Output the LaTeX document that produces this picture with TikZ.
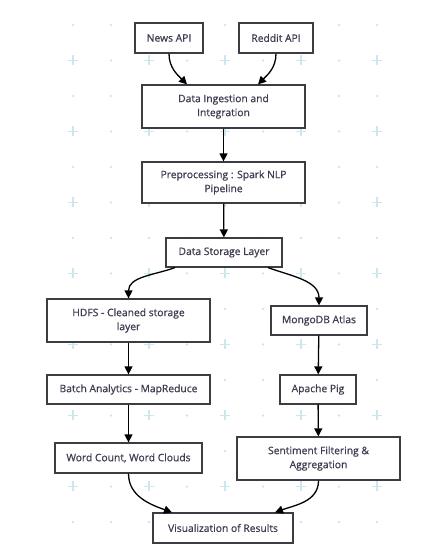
\documentclass[tikz,border=0pt]{standalone}
\usepackage{fontspec}
\setmainfont{Open Sans}
\newfontfamily\boxfont{Open Sans}[FakeBold=0.7]
\usetikzlibrary{arrows.meta}
\definecolor{boxgray}{RGB}{60,60,66}
\definecolor{textgray}{RGB}{62,60,80}
\definecolor{dotcyan}{RGB}{205,232,236}

\begin{document}
\begin{tikzpicture}[x=1pt,y=1pt,
    box/.style={draw=boxgray,line width=1.2pt,fill=white,text=textgray,
      font=\boxfont\fontsize{10.3}{14}\selectfont,align=center,inner sep=0pt},
    arr/.style={-{Triangle[length=8pt,width=8pt]},line width=1.3pt,black}]
    \useasboundingbox (0,0) rectangle (434,548);
    % Background dots and crosses
    \foreach \k in {0,...,14} {
      \foreach \j in {0,...,8} {
        \pgfmathsetmacro{\px}{73+38*\j}
        \pgfmathsetmacro{\py}{523-35.5*\k}
        \pgfmathtruncatemacro{\isplus}{mod(\k,2)==1 && mod(\j,2)==0}
        \ifnum\isplus=1
          \draw[dotcyan,line width=1.4pt] (\px-5,\py) -- (\px+5,\py) (\px,\py-5) -- (\px,\py+5);
        \else
          \fill[dotcyan] (\px,\py) circle (1.4);
        \fi
      }
    }
    % Boxes
    \node[box,minimum width=68pt,minimum height=30pt] (news) at (169,510) {News API};
    \node[box,minimum width=74pt,minimum height=30pt] (reddit) at (276,510) {Reddit API};
    \node[box,minimum width=163pt,minimum height=43pt] (ingest) at (223.5,441.5) {Data Ingestion and\\Integration};
    \node[box,minimum width=163pt,minimum height=41pt] (prep) at (223.5,365.5) {Preprocessing : Spark NLP\\Pipeline};
    \node[box,minimum width=116pt,minimum height=29pt] (store) at (224,295.5) {Data Storage Layer};
    \node[box,minimum width=163pt,minimum height=43pt] (hdfs) at (128.5,227.5) {HDFS - Cleaned storage\\layer};
    \node[box,minimum width=96pt,minimum height=29pt] (mongo) at (319,227.5) {MongoDB Atlas};
    \node[box,minimum width=163pt,minimum height=29pt] (batch) at (128.5,158.5) {Batch Analytics - MapReduce};
    \node[box,minimum width=76pt,minimum height=29pt] (pig) at (318,158.5) {Apache Pig};
    \node[box,minimum width=147pt,minimum height=30pt] (wc) at (128.5,90) {Word Count, Word Clouds};
    \node[box,minimum width=163pt,minimum height=43pt] (sent) at (318.5,89.5) {Sentiment Filtering \&\\Aggregation};
    \node[box,minimum width=140pt,minimum height=30pt] (vis) at (223,20) {Visualization of Results};
    % Connectors
    \draw[arr] (news.south) to[out=-90,in=135] ([xshift=-36.5pt]ingest.north);
    \draw[arr] (reddit.south) to[out=-90,in=45] ([xshift=34.5pt]ingest.north);
    \draw[arr] (ingest) -- (prep);
    \draw[arr] (prep) -- (store);
    \draw[arr] ([xshift=-49pt]store.south) to[out=200,in=90] (hdfs.north);
    \draw[arr] ([xshift=44pt]store.south) to[out=-20,in=90] (mongo.north);
    \draw[arr] (hdfs) -- (batch);
    \draw[arr] (mongo) -- (pig);
    \draw[arr] (batch) -- (wc);
    \draw[arr] (pig) -- (sent);
    \draw[arr] (wc.south) to[out=-90,in=160] ([xshift=-51pt]vis.north);
    \draw[arr] (sent.south) to[out=-90,in=20] ([xshift=52pt]vis.north);
\end{tikzpicture}
\end{document}
